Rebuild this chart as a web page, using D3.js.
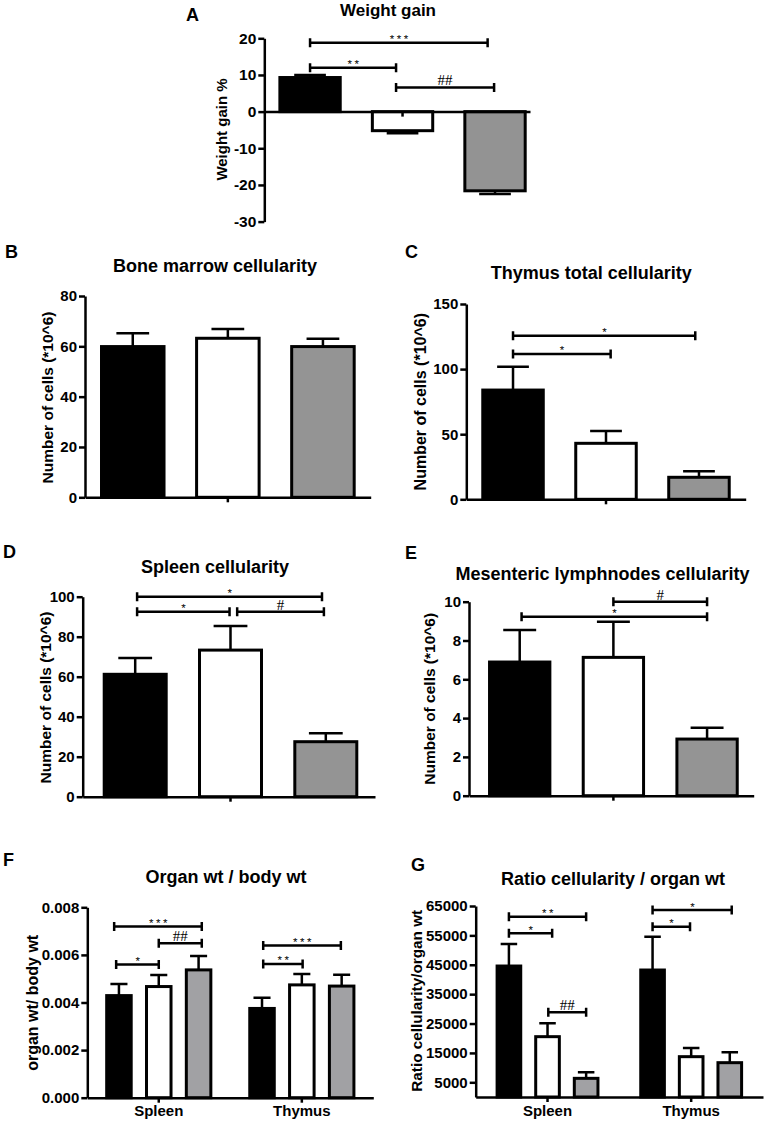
<!DOCTYPE html>
<html>
<head>
<meta charset="utf-8">
<script src="https://cdn.jsdelivr.net/npm/d3@7"></script>
<style>
  body { margin: 0; background: #fff; }
  svg text { font-family: "Liberation Sans", Arial, Helvetica, sans-serif; fill: #000; }
  .domain, .tick line { stroke: #000; stroke-width: 2.5px; }
</style>
</head>
<body>
<svg id="fig" width="766" height="1124"></svg>
<script>
// ---- data ----
// three treatment groups per panel (black, white, grey bars)
const weightGain = [9.3, -5.2, -21.6];
const weightGainSem = [0.7, 0.7, 0.9];
const weightTicks = [-30, -20, -10, 0, 10, 20];

const boneMarrow = [59.9, 63.2, 59.9];
const boneMarrowSem = [5.3, 3.7, 3.1];
const boneTicks = [0, 20, 40, 60, 80];

const thymusCells = [83.9, 43.0, 16.9];
const thymusCellsSem = [18.0, 9.5, 4.6];
const thymusTicks = [0, 50, 100, 150];

const spleenCells = [61.2, 73.3, 27.5];
const spleenCellsSem = [8.1, 12.0, 4.2];
const spleenTicks = [0, 20, 40, 60, 80, 100];

const lymphCells = [6.89, 7.13, 2.92];
const lymphCellsSem = [1.65, 1.84, 0.58];
const lymphTicks = [0, 2, 4, 6, 8, 10];

const organs = ["Spleen", "Thymus"];
const organWt = [[0.00429, 0.00467, 0.00537], [0.00375, 0.00474, 0.00469]];
const organWtSem = [[0.00049, 0.00049, 0.00058], [0.00045, 0.00046, 0.00048]];
const organTicks = [0, 0.002, 0.004, 0.006, 0.008];

const ratioCell = [[44573, 20530, 6351], [43212, 13723, 11682]];
const ratioCellSem = [[7487, 4535, 2042], [11342, 2949, 3516]];
const ratioTicks = [5000, 15000, 25000, 35000, 45000, 55000, 65000];

// significance brackets: group, bar index from/to, height (data units), label
const weightSig = [
  {g: 0, from: 0, to: 1.92, y: 18.8, label: "***"},
  {g: 0, from: 0, to: 0.93, y: 12.0, label: "**"},
  {g: 0, from: 0.93, to: 1.99, y: 6.6, label: "##"}
];
const thymusSig = [
  {g: 0, from: 0, to: 1.05, y: 111.6, label: "*"},
  {g: 0, from: 0, to: 1.96, y: 125.7, label: "*"}
];
const spleenSig = [
  {g: 0, from: 0.02, to: 1.96, y: 100, label: "*"},
  {g: 0, from: 0.02, to: 0.99, y: 92.5, label: "*"},
  {g: 0, from: 1.07, to: 1.98, y: 92.5, label: "#"}
];
const lymphSig = [
  {g: 0, from: 1, to: 2, y: 10.0, label: "#"},
  {g: 0, from: 0.02, to: 2, y: 9.23, label: "*"}
];
const organSig = [
  {g: 0, from: -0.12, to: 2.08, y: 0.00719, label: "***"},
  {g: 0, from: 1, to: 2.08, y: 0.00649, label: "##"},
  {g: 0, from: -0.07, to: 1, y: 0.0056, label: "*"},
  {g: 1, from: 0.03, to: 1.98, y: 0.00639, label: "***"},
  {g: 1, from: 0.03, to: 1.02, y: 0.00562, label: "**"}
];
const ratioSig = [
  {g: 0, from: 0, to: 2, y: 61358, label: "**"},
  {g: 0, from: 0, to: 1.12, y: 55688, label: "*"},
  {g: 0, from: 1.02, to: 2, y: 28808, label: "##"},
  {g: 1, from: 0, to: 2.05, y: 63626, label: "*"},
  {g: 1, from: 0, to: 0.97, y: 57955, label: "*"}
];

const svg = d3.select("#fig");
svg.append("rect").attr("width", 766).attr("height", 1124).attr("fill", "#fff");

const greyA = ["#000000", "#ffffff", "#949494"];
const greyB = ["#000000", "#ffffff", "#a1a1a4"];

function drawPanel(p) {
  const g = svg.append("g");
  const y = d3.scaleLinear().domain(p.domain).range([p.yBottom, p.yTop]);
  const outer = d3.scaleBand()
    .domain(p.groups.map((d, i) => i))
    .range(p.xRange)
    .paddingInner(p.groupPad || 0)
    .paddingOuter(p.outerPad)
    .align(p.align == null ? 0.5 : p.align);
  const inner = d3.scaleBand()
    .domain(d3.range(p.values[0].length))
    .range([0, outer.bandwidth()])
    .paddingInner(p.barPad);
  const bw = inner.bandwidth();
  const sw = 3;
  const cx = (gi, f) => outer(gi) + inner(0) + bw / 2 + f * inner.step();

  const rows = [];
  p.values.forEach((vals, gi) => vals.forEach((v, i) => rows.push({gi: gi, i: i, v: v, e: p.sems[gi][i]})));

  // bars
  g.selectAll("rect.bar")
    .data(rows)
    .join("rect")
    .attr("class", "bar")
    .attr("x", d => outer(d.gi) + inner(d.i) + sw / 2)
    .attr("width", bw - sw)
    .attr("y", d => Math.min(y(d.v), y(0)))
    .attr("height", d => Math.abs(y(d.v) - y(0)))
    .attr("fill", d => p.fills[d.i])
    .attr("stroke", "#000")
    .attr("stroke-width", sw);

  // error bars (away from zero)
  const capW = bw * p.capFrac;
  g.selectAll("path.err")
    .data(rows)
    .join("path")
    .attr("class", "err")
    .attr("fill", "none")
    .attr("stroke", "#000")
    .attr("stroke-width", 2.5)
    .attr("d", d => {
      const x = cx(d.gi, d.i);
      const ye = y(d.v + (d.v < 0 ? -d.e : d.e));
      return "M" + x + "," + y(d.v) + "V" + ye + "M" + (x - capW / 2) + "," + ye + "H" + (x + capW / 2);
    });

  // axes
  const yAxis = g.append("g")
    .attr("transform", "translate(" + p.xRange[0] + ",0)")
    .call(d3.axisLeft(y).tickValues(p.ticks).tickSize(6).tickPadding(2).tickSizeOuter(0)
      .tickFormat(p.tickFormat || (d => String(d))));
  yAxis.selectAll("text").attr("font-size", p.tickSize || 15).attr("font-weight", "bold")
    .attr("font-family", "Liberation Sans, Arial, sans-serif");

  const xAxis = g.append("g")
    .attr("transform", "translate(0," + y(0) + ")")
    .call(d3.axisBottom(outer).tickSize(5).tickPadding(3).tickSizeOuter(0)
      .tickFormat(i => p.groups[i]));
  xAxis.selectAll("text").attr("font-size", 15).attr("font-weight", "bold")
    .attr("font-family", "Liberation Sans, Arial, sans-serif");

  // significance brackets
  p.sig.forEach(s => {
    const x1 = cx(s.g, s.from), x2 = cx(s.g, s.to), yy = y(s.y);
    g.append("path")
      .attr("fill", "none").attr("stroke", "#000").attr("stroke-width", 2.5)
      .attr("d", "M" + x1 + "," + yy + "H" + x2 + "M" + x1 + "," + (yy - 4.5) + "V" + (yy + 4.5) +
        "M" + x2 + "," + (yy - 4.5) + "V" + (yy + 4.5));
    const hash = s.label.indexOf("#") >= 0;
    g.append("text")
      .attr("x", (x1 + x2) / 2 + (hash ? 0 : 1.5))
      .attr("y", hash ? yy - 2 : yy + 0.5)
      .attr("text-anchor", "middle")
      .attr("font-size", hash ? 15 : 11.5)
      .attr("letter-spacing", hash ? 0 : 2.5)
      .style("font-family", hash ? "'Liberation Serif', 'Times New Roman', serif" : null)
      .text(s.label);
  });

  // labels
  g.append("text").attr("x", p.letter[1]).attr("y", p.letter[2])
    .attr("font-size", 18).attr("font-weight", "bold").text(p.letter[0]);
  g.append("text").attr("x", p.titlePos[0]).attr("y", p.titlePos[1])
    .attr("text-anchor", "middle").attr("font-size", p.titleSize || 18).attr("font-weight", "bold")
    .text(p.title);
  g.append("text")
    .attr("transform", "translate(" + p.ylabelPos[0] + "," + p.ylabelPos[1] + ") rotate(-90)")
    .attr("text-anchor", "middle").attr("font-size", p.ylabelSize || 15.5).attr("font-weight", "bold")
    .text(p.ylabel);
}

drawPanel({
  letter: ["A", 186, 20.7], title: "Weight gain", titlePos: [388, 16], titleSize: 17,
  ylabel: "Weight gain %", ylabelPos: [227.3, 129.5], ylabelSize: 15,
  domain: [-30, 20], yBottom: 221.6, yTop: 38.3, ticks: weightTicks, tickSize: 15.5,
  xRange: [264.3, 530], outerPad: 0.035, align: 0.81, barPad: 0.315, capFrac: 0.5,
  groups: [""], values: [weightGain], sems: [weightGainSem], fills: ["#000000", "#ffffff", "#939393"],
  sig: weightSig
});

drawPanel({
  letter: ["B", 5, 258], title: "Bone marrow cellularity", titlePos: [215, 272],
  ylabel: "Number of cells (*10^6)", ylabelPos: [52.7, 397.5],
  domain: [0, 80], yBottom: 497.3, yTop: 296, ticks: boneTicks,
  xRange: [85, 370.7], outerPad: 0.0587, barPad: 0.311, capFrac: 0.5,
  groups: [""], values: [boneMarrow], sems: [boneMarrowSem], fills: greyA,
  sig: []
});

drawPanel({
  letter: ["C", 405, 258], title: "Thymus total cellularity", titlePos: [591.3, 279],
  ylabel: "Number of cells (*10^6)", ylabelPos: [426.3, 401.7], ylabelSize: 16,
  domain: [0, 150], yBottom: 499.3, yTop: 304, ticks: thymusTicks,
  xRange: [466.3, 745.7], outerPad: 0.06, barPad: 0.317, capFrac: 0.5,
  groups: [""], values: [thymusCells], sems: [thymusCellsSem], fills: greyA,
  sig: thymusSig
});

drawPanel({
  letter: ["D", 3, 558], title: "Spleen cellularity", titlePos: [215, 573.3],
  ylabel: "Number of cells (*10^6)", ylabelPos: [50.5, 697.5],
  domain: [0, 100], yBottom: 796.7, yTop: 596.7, ticks: spleenTicks,
  xRange: [82.7, 375], outerPad: 0.0718, align: 0.545, barPad: 0.318, capFrac: 0.52,
  groups: [""], values: [spleenCells], sems: [spleenCellsSem], fills: greyA,
  sig: spleenSig
});

drawPanel({
  letter: ["E", 405, 559], title: "Mesenteric lymphnodes cellularity", titlePos: [602.5, 580],
  ylabel: "Number of cells (*10^6)", ylabelPos: [434.7, 698.8],
  domain: [0, 10], yBottom: 795.7, yTop: 601.7, ticks: lymphTicks,
  xRange: [469, 753.7], outerPad: 0.0678, align: 0.56, barPad: 0.324, capFrac: 0.52,
  groups: [""], values: [lymphCells], sems: [lymphCellsSem], fills: greyA,
  sig: lymphSig
});

drawPanel({
  letter: ["F", 3, 866], title: "Organ wt / body wt", titlePos: [226, 883.3],
  ylabel: "organ wt/ body wt", ylabelPos: [37.5, 1002.8], ylabelSize: 16,
  domain: [0, 0.008], yBottom: 1097.7, yTop: 907.3, ticks: organTicks, tickFormat: d3.format(".3f"),
  xRange: [87.3, 373.3], groupPad: 0.251, outerPad: 0.125, barPad: 0.309, capFrac: 0.62,
  groups: organs, values: organWt, sems: organWtSem, fills: greyB,
  sig: organSig
});

drawPanel({
  letter: ["G", 411, 871], title: "Ratio cellularity / organ wt", titlePos: [613, 885.3],
  ylabel: "Ratio cellularity/organ wt", ylabelPos: [422, 1000.8], ylabelSize: 15.3,
  domain: [0, 65000], yBottom: 1097, yTop: 906, ticks: ratioTicks,
  xRange: [475.7, 763], groupPad: 0.277, outerPad: 0.1385, barPad: 0.31, capFrac: 0.62,
  groups: organs, values: ratioCell, sems: ratioCellSem, fills: greyB,
  sig: ratioSig
});
</script>
</body>
</html>
